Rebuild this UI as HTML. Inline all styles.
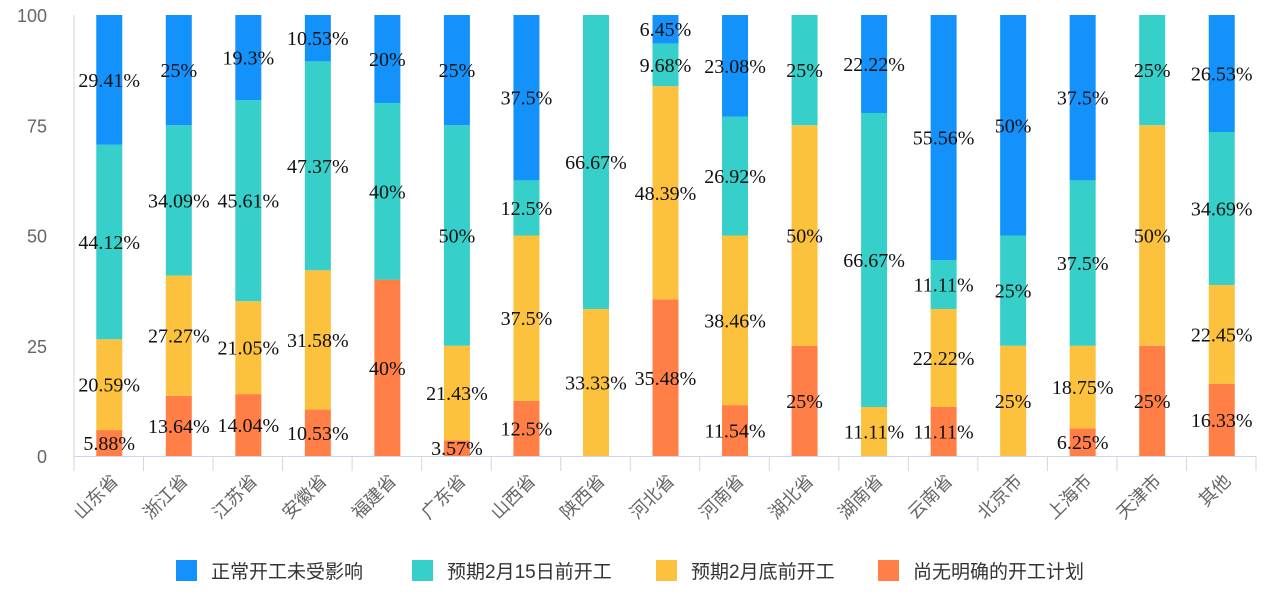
<!DOCTYPE html>
<html><head><meta charset="utf-8"><style>
body{margin:0;background:#fff;width:1269px;height:609px;overflow:hidden}
svg{display:block}
.yl{font-family:"Liberation Sans","Noto Sans CJK SC",sans-serif;font-size:18px;fill:#666}
.xl{font-family:"Liberation Sans","Noto Sans CJK SC",sans-serif;font-size:18px;fill:#666}
.dl{font-family:"Liberation Serif","Noto Serif CJK SC",serif;font-size:20px;fill:#111}
.lg{font-family:"Liberation Sans","Noto Sans CJK SC",sans-serif;font-size:19px;fill:#333}
</style></head><body>
<svg id="c" width="1269" height="609" xmlns="http://www.w3.org/2000/svg"></svg>
<script>
const cats=["山东省","浙江省","江苏省","安徽省","福建省","广东省","山西省","陕西省","河北省","河南省","湖北省","湖南省","云南省","北京市","上海市","天津市","其他"];
const d=[[5.88,20.59,44.12,29.41],[13.64,27.27,34.09,25],[14.04,21.05,45.61,19.3],[10.53,31.58,47.37,10.53],[40,0,40,20],[3.57,21.43,50,25],[12.5,37.5,12.5,37.5],[0,33.33,66.67,0],[35.48,48.39,9.68,6.45],[11.54,38.46,26.92,23.08],[25,50,25,0],[0,11.11,66.67,22.22],[11.11,22.22,11.11,55.56],[0,25,25,50],[6.25,18.75,37.5,37.5],[25,50,25,0],[16.33,22.45,34.69,26.53]];
const col=["#ff7f47","#fcc13d","#36cfc9","#1492fb"];
const x0=74,x1=1256,yb=456,yt=15,k=(yb-yt)/100,cw=(x1-x0)/17;
let s="";
[0,25,50,75,100].forEach(v=>{s+=`<text class="yl" x="47" y="${yb-v*k+7}" text-anchor="end">${v}</text>`;});
s+=`<line x1="${x0}" y1="${yt}" x2="${x0}" y2="${yb}" stroke="#ccd6eb"/>`;
s+=`<line x1="${x0}" y1="${yb+0.5}" x2="${x1}" y2="${yb+0.5}" stroke="#ccd6eb"/>`;
for(let i=0;i<=17;i++){const x=x0+i*cw;s+=`<line x1="${x}" y1="${yb}" x2="${x}" y2="${yb+15}" stroke="#ccd6eb"/>`;}
let labels="";
d.forEach((r,i)=>{const cx=x0+cw*(i+0.5)+0.5;let acc=0;
 r.forEach((v,j)=>{if(v>0){const y=yb-(acc+v)*k,h=v*k;
  s+=`<rect x="${cx-13}" y="${y}" width="26" height="${h}" fill="${col[j]}"/>`;
  labels+=`<text class="dl" x="${cx}" y="${y+h/2+7}" text-anchor="middle">${v}%</text>`;}
  acc+=v;});
 s+=`<text class="xl" transform="translate(${cx+10},${yb+26}) rotate(-45)" text-anchor="end">${cats[i]}</text>`;
});
s+=labels;
const lg=[["正常开工未受影响",176,3],["预期2月15日前开工",412,2],["预期2月底前开工",656,1],["尚无明确的开工计划",878,0]];
lg.forEach(([t,x,c])=>{s+=`<rect x="${x}" y="560" width="21" height="21" fill="${col[c]}"/><text class="lg" x="${x+35}" y="578">${t}</text>`;});
document.getElementById("c").innerHTML=s;
</script>
</body></html>
